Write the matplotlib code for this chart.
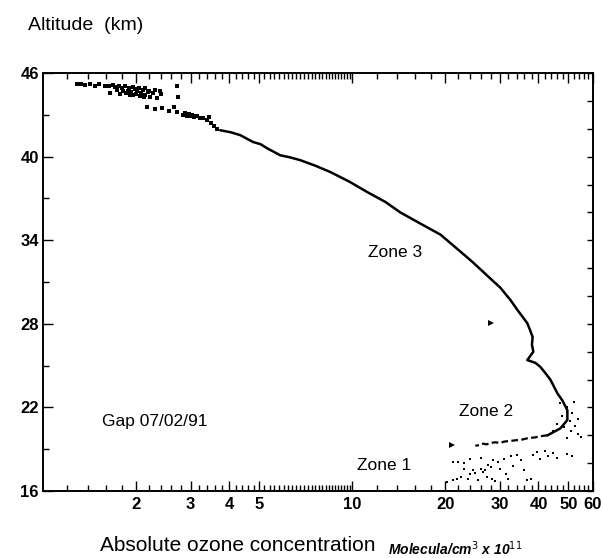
import numpy as np
import matplotlib
matplotlib.use("Agg")
import matplotlib.pyplot as plt
from matplotlib.ticker import FixedLocator, NullFormatter, FuncFormatter

plt.rcParams["font.family"] = ["Liberation Sans", "DejaVu Sans"]

# main continuous profile (concentration x 1e11 molec/cm3, altitude km)
curve_conc = [3.74, 4.05, 4.34, 4.78, 5.05, 5.31, 5.85, 6.3, 6.79, 7.6, 8.49, 9.8, 11.2,
              12.8, 14.3, 16.6, 19.3, 21.8, 24.6, 27.5, 30.1, 32.5, 34.2, 36.8, 37.5,
              38.3, 38.1, 38.5, 36.8, 39.1, 40.6, 42.0, 43.7, 46.1, 47.8, 49.6, 49.6,
              47.1, 42.8]
curve_alt = [41.9, 41.75, 41.55, 41.05, 40.9, 40.6, 40.1, 39.95, 39.75, 39.35, 38.9,
             38.2, 37.45, 36.75, 36.0, 35.2, 34.4, 33.4, 32.4, 31.4, 30.6, 29.7, 29.0,
             28.05, 27.6, 27.05, 26.5, 26.0, 25.4, 25.2, 24.9, 24.5, 24.0, 23.0, 22.5,
             21.8, 21.1, 20.5, 20.0]

# broken lower edge of zone 2
edge_conc = [42.8, 41.0, 39.0, 37.0, 35.5, 34.0, 32.5, 31.0, 30.0, 29.0, 28.0, 27.2,
             26.5, 25.8, 25.0]
edge_alt = [20.0, 19.95, 19.85, 19.8, 19.7, 19.65, 19.6, 19.55, 19.45, 19.5, 19.45,
            19.35, 19.4, 19.3, 19.25]

# scattered samples near the top
top_conc = [1.29, 1.33, 1.37, 1.42, 1.47, 1.52, 1.59, 1.63, 1.68, 1.71, 1.76, 1.80,
            1.84, 1.90, 1.95, 1.98, 2.05, 2.10, 2.14, 2.20, 2.30, 2.39, 1.65, 1.77,
            1.85, 1.91, 2.00, 2.06, 2.14, 2.22, 2.34, 2.40, 2.71, 2.73, 2.17, 2.30,
            2.42, 2.55, 2.71, 2.65, 2.84, 2.92, 3.00, 3.08, 3.15, 3.22, 3.29, 3.40,
            3.50, 3.58, 3.45, 3.66, 1.74, 1.82, 1.88, 1.93, 2.02, 2.08, 2.18, 2.26,
            1.96, 2.12, 2.88, 2.96, 3.04, 3.12]
top_alt = [45.2, 45.25, 45.15, 45.2, 45.1, 45.2, 45.1, 45.05, 45.15, 45.0, 45.1, 44.95,
           45.05, 44.9, 45.0, 44.85, 44.95, 44.8, 44.9, 44.75, 44.8, 44.7, 44.55, 44.5,
           44.6, 44.4, 44.5, 44.35, 44.45, 44.3, 44.2, 44.5, 45.1, 44.3, 43.55, 43.45,
           43.5, 43.3, 43.2, 43.6, 43.0, 42.95, 42.9, 42.85, 42.9, 42.8, 42.75, 42.6,
           42.4, 42.2, 42.85, 42.0, 44.8, 44.75, 44.7, 44.65, 44.7, 44.6, 44.65, 44.55,
           44.45, 44.3, 43.1, 43.05, 43.0, 42.95]

# scatter in zone 2 (right side)
z2_conc = [47.1, 49.6, 51.5, 53.5, 50.5, 52.5, 48.5, 51.0, 53.5, 46.0, 44.7, 55.0,
           49.6, 52.0, 47.5]
z2_alt = [22.3, 22.0, 21.6, 21.2, 21.0, 20.7, 20.6, 20.3, 20.1, 20.8, 20.3, 19.9,
          19.8, 22.4, 21.4]

# scatter in zone 1
z1_conc = [20.3, 21.2, 21.8, 22.4, 21.2, 22.0, 22.9, 23.6, 24.1, 24.6, 25.0, 25.5,
           26.0, 26.5, 26.9, 27.2, 27.5, 28.0, 28.6, 28.3, 29.5, 30.0, 31.0, 31.3,
           32.5, 33.0, 34.0, 35.0, 36.0, 36.8, 37.7, 38.5, 39.7, 40.5, 42.1, 43.0,
           44.7, 46.0, 49.6, 51.5, 24.1, 26.0, 23.0, 32.0, 29.0]
z1_alt = [16.64, 16.78, 16.9, 17.0, 18.08, 18.1, 18.0, 16.9, 17.2, 17.5, 17.3, 16.8,
          17.6, 17.4, 17.5, 17.0, 17.9, 17.7, 18.2, 16.9, 18.1, 17.6, 18.3, 17.2,
          18.5, 17.8, 18.6, 18.2, 17.5, 16.8, 16.9, 18.6, 18.8, 18.3, 18.9, 18.5,
          18.7, 18.4, 18.65, 18.55, 18.3, 18.4, 17.6, 16.9, 16.75]

# boundary markers
mark_conc = [28.0, 21.0]
mark_alt = [28.05, 19.3]

x_ticks = [2, 3, 4, 5, 10, 20, 30, 40, 50, 60]
y_ticks = [16, 22, 28, 34, 40, 46]

fig = plt.figure(figsize=(6.03, 5.58), dpi=100)
ax = fig.add_axes([0.0713, 0.120, 0.912, 0.749])

ax.plot(curve_conc, curve_alt, color="black", lw=1.8, solid_capstyle="round")
ax.plot(edge_conc, edge_alt, color="black", lw=1.6, ls=(0, (3, 1.5)))
ax.plot(top_conc, top_alt, "s", color="black", ms=2.6, mew=0)
ax.plot(z2_conc, z2_alt, "s", color="black", ms=1.8, mew=0)
ax.plot(z1_conc, z1_alt, "s", color="black", ms=1.8, mew=0)
ax.plot(mark_conc, mark_alt, ">", color="black", ms=5, mew=0)

ax.set_xscale("log")
ax.set_xlim(1, 60)
ax.set_ylim(16, 46)

minor = [m * 10 ** e for e in (0, 1) for m in np.arange(1.2, 10, 0.2)]
ax.xaxis.set_major_locator(FixedLocator(x_ticks))
ax.xaxis.set_major_formatter(FuncFormatter(lambda v, p: f"{v:g}"))
ax.xaxis.set_minor_locator(FixedLocator(minor))
ax.xaxis.set_minor_formatter(NullFormatter())
ax.yaxis.set_major_locator(FixedLocator(y_ticks))
ax.yaxis.set_minor_locator(FixedLocator([19, 25, 31, 37, 43]))

ax.tick_params(which="both", direction="in", top=True, right=False, width=1.0)
ax.tick_params(which="major", length=7)
ax.tick_params(which="minor", length=4)
ax.tick_params(axis="x", which="major", labelsize=12, pad=4)
ax.tick_params(axis="y", which="major", labelsize=12, pad=3)
for lab in ax.get_xticklabels() + ax.get_yticklabels():
    lab.set_fontweight("bold")

ax2 = ax.twinx()
ax2.set_ylim(16, 46)
ax2.yaxis.set_major_locator(FixedLocator(np.arange(16, 47, 2)))
ax2.tick_params(direction="in", length=4, width=1.0, labelright=False)

for a in (ax, ax2):
    for s in a.spines.values():
        s.set_linewidth(1.2)

fig.text(0.046, 0.955, "Altitude  (km)", fontsize=14, ha="left", va="center")
fig.text(0.655, 0.548, "Zone 3", fontsize=12.5, ha="center", va="center")
fig.text(0.806, 0.263, "Zone 2", fontsize=12.5, ha="center", va="center")
fig.text(0.637, 0.165, "Zone 1", fontsize=12.5, ha="center", va="center")
fig.text(0.257, 0.244, "Gap 07/02/91", fontsize=12.5, ha="center", va="center")
fig.text(0.166, 0.022, "Absolute ozone concentration", fontsize=15, ha="left", va="center")
fig.text(0.643, 0.016, r"Molecula/cm$^{3}$ x 10$^{11}$", fontsize=10, fontstyle="italic",
         fontweight="bold", ha="left", va="center")

fig.savefig("out.png", dpi=100)
